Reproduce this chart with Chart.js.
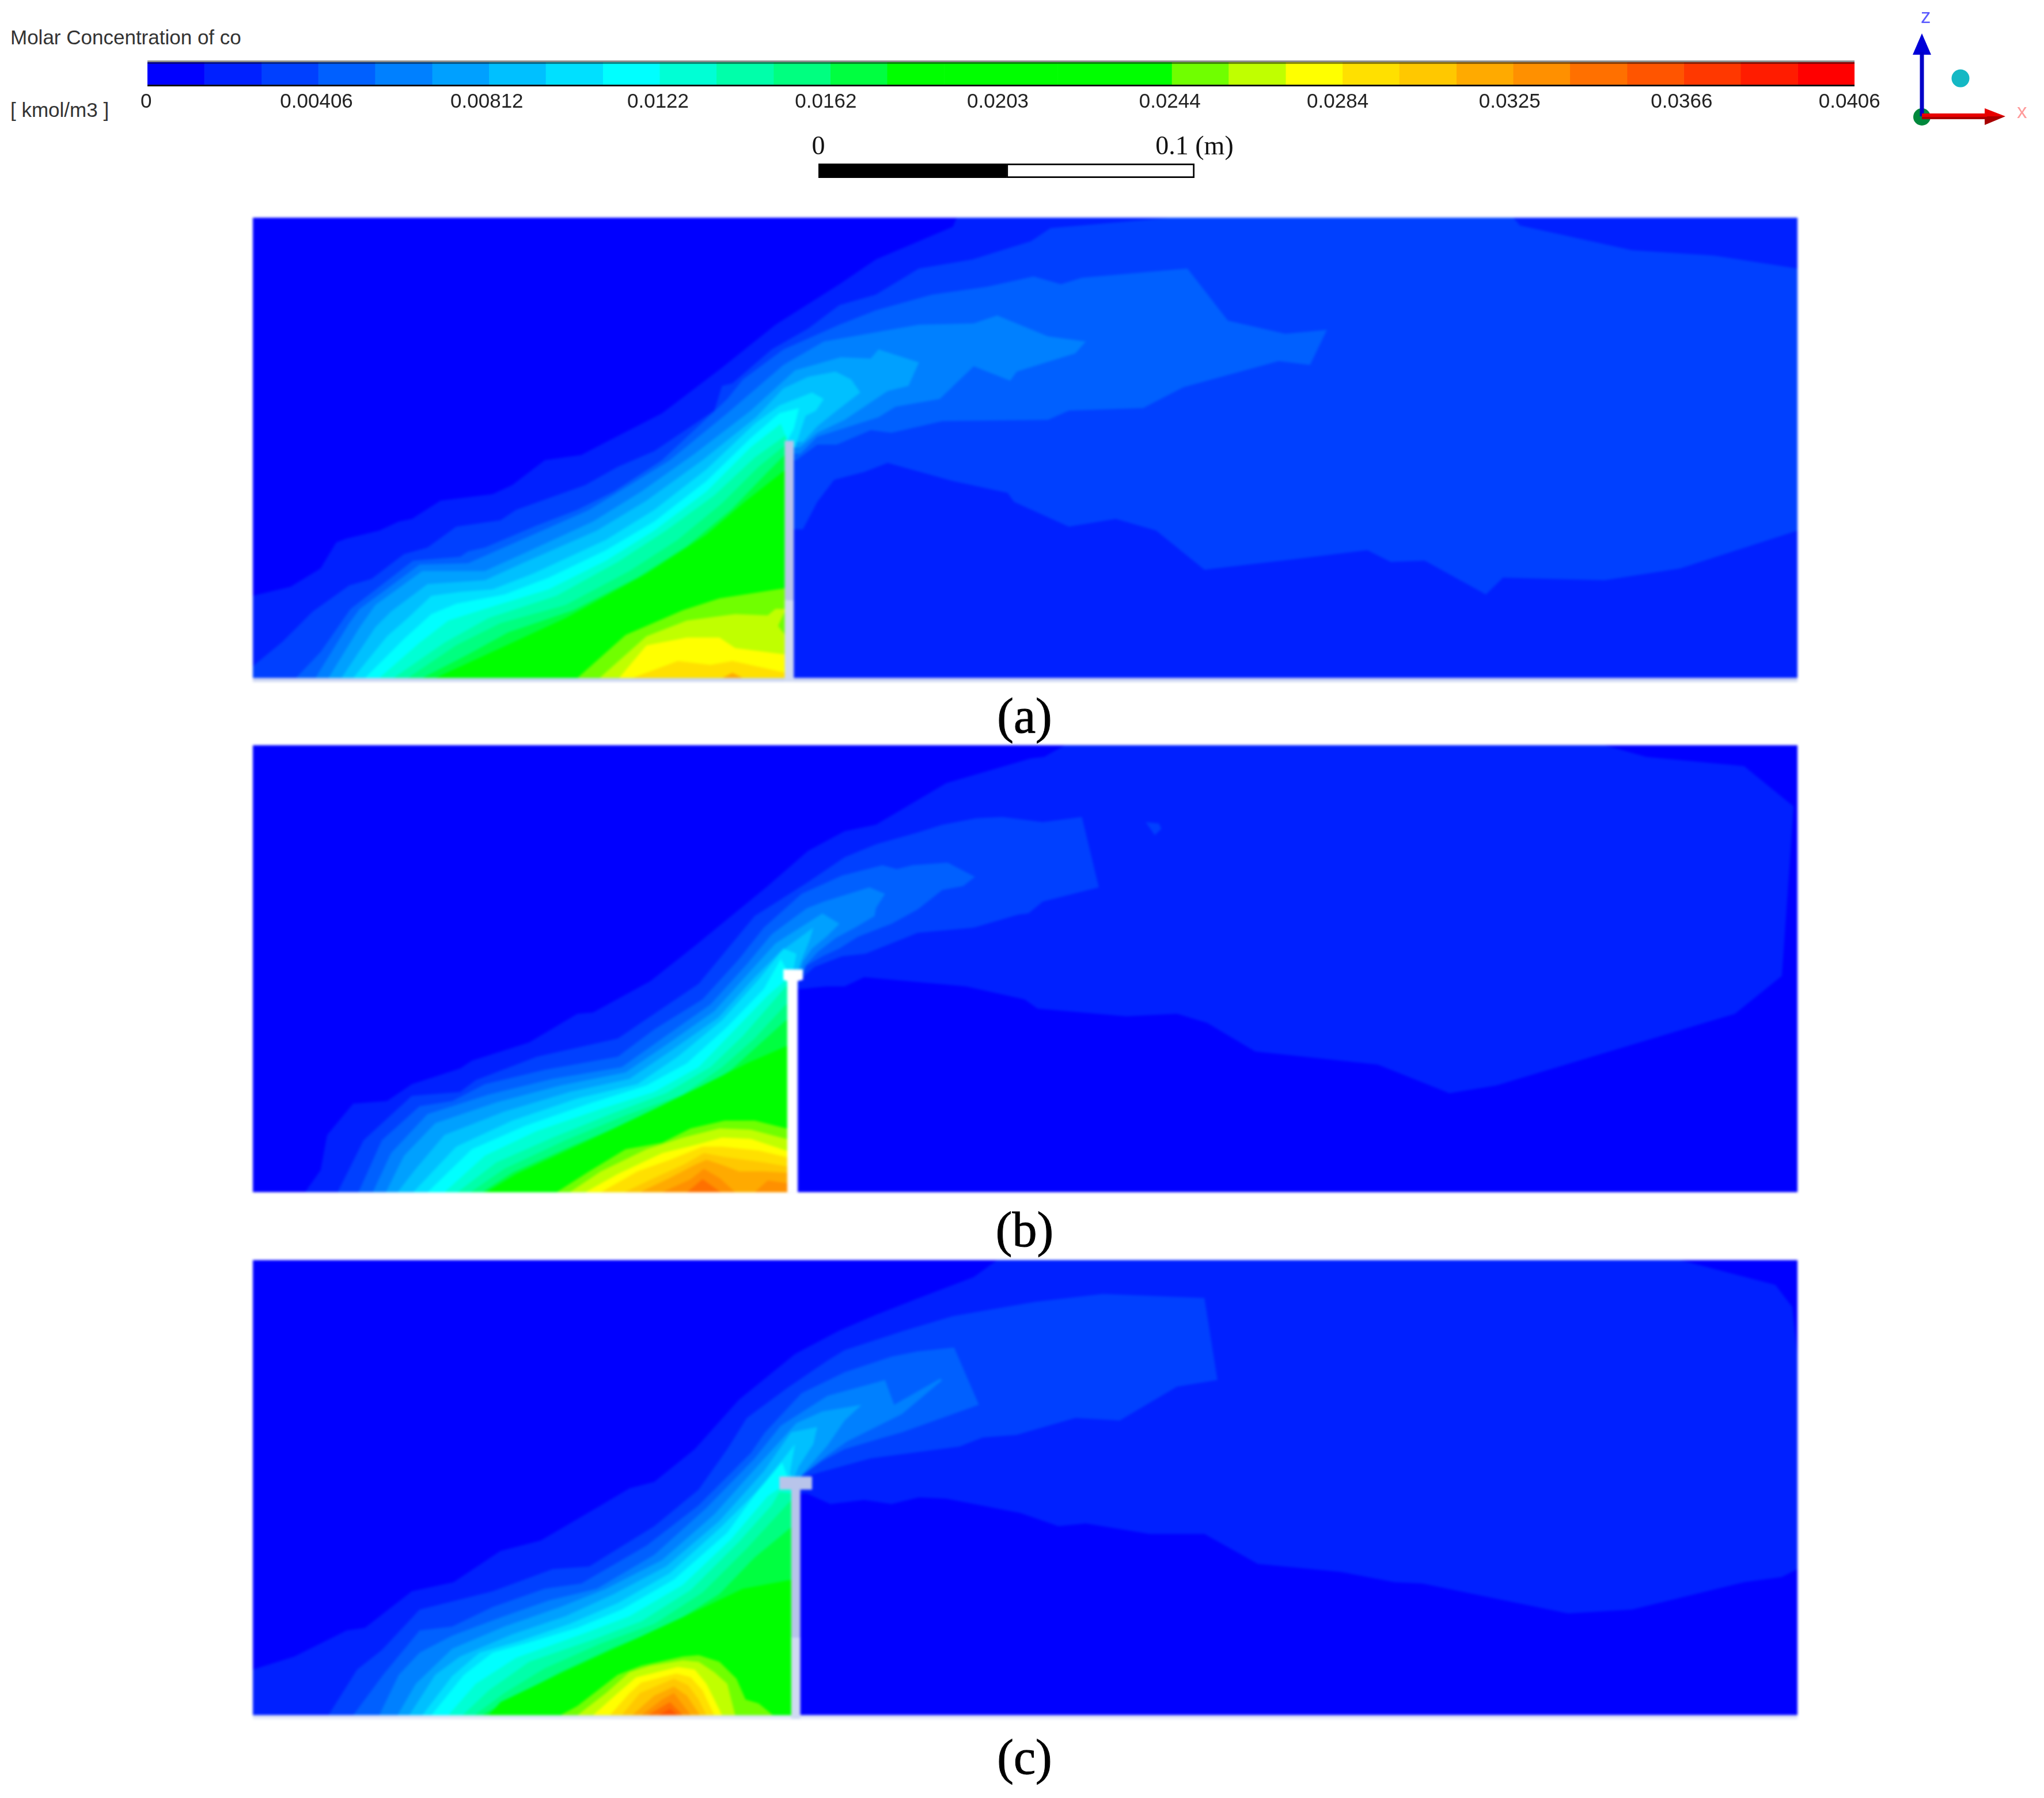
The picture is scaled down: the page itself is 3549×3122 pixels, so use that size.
<!DOCTYPE html>
<html lang="en">
<head>
<meta charset="UTF-8">
<title>Molar Concentration of co</title>
<script src="https://cdn.jsdelivr.net/npm/chart.js"></script>
<style>
    body { margin: 0; background: #fff; width: 3549px; height: 3122px; position: relative; overflow: hidden; }
    canvas { position: absolute; display: block; }
    .panel { filter: blur(2px); }
    .txt { position: absolute; white-space: nowrap; line-height: 1; transform: translateY(-50%); }
    .sans { font-family: 'Liberation Sans', sans-serif; font-size: 35px; color: #333; }
    .cap { font-family: 'Liberation Serif', serif; font-size: 86px; color: #000; -webkit-text-stroke: 1px #000; transform: translate(-50%, -50%); }
</style>
</head>
<body>
<div class="txt sans" style="left:18px;top:64px">Molar Concentration of co</div>
<div class="txt sans" style="left:18px;top:190px">[ kmol/m3 ]</div>
<canvas id="colorbar" width="3300" height="110" style="left:100px;top:105px"></canvas>
<canvas id="scalebar" width="900" height="84" style="left:1300px;top:225px"></canvas>
<canvas id="triad" width="260" height="240" style="left:3280px;top:0"></canvas>
<div class="txt" style="left:3335px;top:28px;font:35px 'Liberation Sans';color:#5a5aff">z</div>
<div class="txt" style="left:3502px;top:193px;font:35px 'Liberation Sans';color:#ff9a9a">x</div>
<canvas id="panelA" class="panel" width="2682" height="806" style="left:439px;top:378px"></canvas>
<canvas id="panelB" class="panel" width="2682" height="783" style="left:439px;top:1294px"></canvas>
<canvas id="panelC" class="panel" width="2682" height="797" style="left:439px;top:2188px"></canvas>
<div class="txt cap" style="left:1779px;top:1243px">(a)</div>
<div class="txt cap" style="left:1779px;top:2135px">(b)</div>
<div class="txt cap" style="left:1779px;top:3051px">(c)</div>

<script>
// colour legend
const bandEdges = [0,0.00135,0.00271,0.00406,0.00541,0.00677,0.00812,0.00947,0.01083,0.01218,0.01353,0.01489,0.01624,0.01759,0.01895,0.0203,0.02165,0.02301,0.02436,0.02571,0.02707,0.02842,0.02977,0.03113,0.03248,0.03383,0.03519,0.03654,0.03789,0.03925,0.0406];
const bandColors = ['#0000ff','#0020ff','#0040ff','#0060ff','#0080ff','#00a0ff','#00c0ff','#00e0ff','#00ffff','#00ffd5','#00ffaa','#00ff80','#00ff40','#00ff00','#00ff00','#00ff00','#00ff00','#00ff00','#70ff00','#c0ff00','#ffff00','#ffe000','#ffc800','#ffaa00','#ff9000','#ff7000','#ff5500','#ff3800','#ff1c00','#ff0000'];
const colorbarTicks = [0,0.00406,0.00812,0.0122,0.0162,0.0203,0.0244,0.0284,0.0325,0.0366,0.0406];
const colorbarTickLabels = ['0','0.00406','0.00812','0.0122','0.0162','0.0203','0.0244','0.0284','0.0325','0.0366','0.0406'];
const scaleTicks = [0,0.1];
const scaleTickLabels = ['0','0.1 (m)'];

// contour outlines, flat x,z pairs (288 units = 0.1 m, z from the floor)
const a01 = [0,63,29,70,52,84,64,104,72,107,97,113,112,120,122,122,144,136,184,141,199,148,224,167,252,171,271,181,314,203,360,238,401,271,450,302,478,321,537,346,540,353,1185,353,1185,0,0,0];
const a02 = [0,9,23,28,46,51,74,71,91,76,116,95,134,100,156,116,190,121,202,129,255,148,280,162,308,174,354,205,360,224,368,226,398,252,426,268,450,286,478,294,511,314,552,321,597,335,612,345,704,353,967,353,972,347,1058,328,1121,324,1185,314,1185,113,1095,84,1037,75,959,77,946,64,899,90,873,89,855,98,798,91,730,83,693,113,662,122,626,116,584,135,579,142,537,151,487,165,469,158,446,152,433,135,422,114,417,114,410,114,410,0,0,0];
const a03 = [33,0,52,20,75,53,123,90,159,93,165,97,178,100,218,117,249,129,277,143,314,167,364,214,376,229,407,252,450,271,478,282,521,294,563,300,599,308,620,302,636,307,717,314,748,274,792,264,824,267,811,240,787,243,714,223,683,207,626,205,610,198,529,197,490,188,474,190,448,179,433,179,417,167,410,167,410,0];
const a04 = [48,0,74,42,82,53,128,87,165,88,215,110,258,129,289,148,320,167,364,203,407,240,438,258,477,265,511,271,553,272,571,278,610,262,639,258,631,249,586,235,581,228,553,239,527,214,493,208,480,200,433,185,420,172,410,172,410,0];
const a05 = [58,0,82,39,94,56,130,82,178,82,209,96,261,120,298,143,339,172,382,205,416,236,451,246,474,245,480,252,511,242,503,224,487,220,454,198,433,188,420,177,410,176,410,0];
const a06 = [68,0,94,39,106,51,134,72,178,75,209,89,264,113,302,136,345,167,386,200,407,222,426,231,447,235,459,229,466,219,448,205,433,193,422,181,410,181,410,0];
const a07 = [77,0,103,32,119,46,137,63,159,66,184,68,215,80,271,106,308,129,348,160,385,195,404,209,429,219,438,214,432,205,424,201,416,177,410,176,410,0];
const a08 = [86,0,116,30,137,49,156,57,193,64,227,77,271,98,308,120,348,151,382,184,404,203,419,207,415,191,410,182,410,0];
const a09 = [97,0,128,27,150,44,178,53,227,68,271,90,308,113,348,143,382,177,405,195,410,182,410,0];
const a10 = [108,0,147,27,181,46,233,63,280,89,317,113,354,140,385,169,409,186,410,0];
const a11 = [119,0,156,25,190,42,240,56,289,82,326,106,360,134,388,162,409,179,410,0];
const a12 = [130,0,165,18,196,35,246,52,295,77,333,101,367,129,395,158,409,172,410,0];
const a13 = [140,0,190,23,240,46,302,80,348,110,376,134,409,160,410,0];
const a18 = [249,0,286,33,330,52,358,61,409,69,410,0];
const a19 = [266,0,302,32,333,44,370,49,395,48,401,53,409,53,403,40,409,32,410,30,410,0];
const a20 = [281,0,302,25,333,31,358,31,370,23,409,18,410,0];
const a21 = [291,0,326,13,351,10,368,13,409,4,410,0];
const a22 = [360,0,368,4,376,0];
const panelALevels = [1,2,3,4,5,6,7,8,9,10,11,12,13,18,19,20,21,23];
const panelAOutlines = [a01,a02,a03,a04,a05,a06,a07,a08,a09,a10,a11,a12,a13,a18,a19,a20,a21,a22];

const b01 = [40,0,52,17,57,44,77,68,103,70,122,83,159,95,168,101,212,115,249,137,261,138,305,162,339,189,395,235,426,262,454,277,478,282,532,314,597,333,607,334,623,343,1037,343,1069,334,1144,327,1182,296,1173,166,1137,137,954,82,918,76,863,98,769,108,732,130,709,137,670,135,602,141,592,148,547,158,469,165,454,158,440,158,420,156,412,155,412,0];
const b02 = [65,0,85,40,122,74,159,77,171,86,218,104,280,118,308,137,342,160,385,212,426,238,454,257,478,267,510,276,529,282,555,287,575,288,606,284,636,288,649,234,606,223,595,214,587,213,553,203,510,199,470,183,452,181,431,173,421,164,411,164,411,0];
const b02blob = [685,284,695,283,697,279,692,274];
const b03 = [81,0,99,40,128,66,153,70,178,83,224,94,280,104,308,125,345,148,373,179,392,203,421,229,452,243,483,251,494,248,506,251,533,253,554,242,545,235,529,232,510,217,490,206,464,196,450,187,437,181,425,174,421,165,411,165,411,0];
const b04 = [92,0,106,30,134,60,181,75,230,87,283,96,314,118,351,144,379,175,398,198,425,218,438,223,473,234,485,229,478,218,477,212,462,203,447,195,433,184,424,174,420,165,411,165,411,0];
const b05 = [102,0,116,28,140,53,187,69,236,82,286,92,317,113,354,139,382,170,401,191,437,214,450,206,441,197,429,187,422,177,419,166,411,166,411,0];
const b06 = [111,0,125,18,147,44,193,62,243,77,289,87,320,108,357,134,385,165,404,184,430,203,427,193,422,181,418,170,411,168,411,0];
const b07 = [123,0,156,35,199,55,249,72,295,83,326,104,360,132,388,163,407,187,417,183,415,172,411,168,411,0];
const b08 = [134,0,168,33,209,51,258,68,302,82,333,99,364,127,392,156,405,179,411,168,411,0];
const b09 = [147,0,178,28,218,47,267,64,308,77,342,96,370,125,395,151,409,163,411,163,411,0];
const b10 = [157,0,187,23,230,42,277,61,317,76,351,96,376,120,409,158,411,158,411,0];
const b11 = [167,0,193,18,240,40,286,59,330,75,360,96,385,118,409,144,411,144,411,0];
const b12 = [176,0,199,15,246,36,292,55,336,73,367,94,409,132,411,132,411,0];
const b13 = [179,0,202,14,258,40,302,61,345,82,379,99,409,112,411,112,411,0];
const b18 = [233,0,258,16,286,33,314,38,336,49,362,55,385,55,409,49,411,49,411,0];
const b19 = [243,0,267,16,302,33,330,42,358,49,382,48,409,41,411,41,411,0];
const b20 = [255,0,280,14,314,30,342,37,360,42,382,41,409,32,411,32,411,0];
const b21 = [267,0,295,16,320,25,345,35,360,35,388,32,409,27,411,27,411,0];
const b22 = [285,0,308,11,330,21,346,30,362,27,392,23,409,20,411,20,411,0];
const b23 = [297,0,320,11,339,21,348,25,360,21,373,16,392,16,409,15,411,15,411,0];
const b24 = [314,0,336,10,346,18,358,11,370,0,385,0,395,9,409,7,411,7,411,0];
const b25 = [333,0,345,10,359,0];
const panelBLevels = [1,2,2,3,4,5,6,7,8,9,10,11,12,13,18,19,20,21,22,23,24,25];
const panelBOutlines = [b01,b02,b02blob,b03,b04,b05,b06,b07,b08,b09,b10,b11,b12,b13,b18,b19,b20,b21,b22,b23,b24,b25];

const c01 = [0,35,32,45,72,65,86,67,122,95,154,102,190,126,221,134,267,161,289,174,308,179,339,204,373,242,416,277,450,295,478,307,511,320,553,336,571,349,1095,349,1168,330,1181,313,1185,277,1185,112,1173,106,1144,102,1058,81,1009,78,897,101,876,102,834,110,771,116,730,139,688,139,639,147,618,145,589,155,532,166,511,167,490,162,469,165,443,162,425,170,414,169,414,0,0,0];
const c02 = [58,0,80,35,99,50,128,81,184,95,230,112,258,114,308,145,342,173,364,204,379,228,410,251,441,272,454,280,500,295,537,306,600,317,652,323,730,320,740,257,709,252,665,226,631,228,586,215,560,213,542,206,474,197,427,184,425,178,414,178,414,0];
const c03 = [77,0,100,31,128,65,153,68,184,83,224,97,252,101,302,130,342,161,382,201,393,217,421,247,454,263,490,275,510,279,538,282,557,238,498,217,484,213,454,204,437,195,423,185,414,178,414,0];
const c04 = [97,0,112,31,128,48,153,61,190,75,227,88,264,97,308,123,348,159,385,197,405,222,441,245,485,257,492,238,527,258,529,257,498,231,480,222,456,210,439,198,424,186,414,178,414,0];
const c05 = [111,0,125,24,153,51,193,68,236,83,271,97,314,119,354,154,388,192,417,224,437,233,467,238,454,226,441,207,427,191,422,185,414,178,414,0];
const c06 = [120,0,140,31,159,45,199,62,240,76,277,93,317,114,358,149,392,187,413,217,433,221,430,208,419,191,416,184,414,178,414,0];
const c07 = [130,0,153,30,174,48,205,57,243,70,280,86,320,109,360,145,390,175,416,208,412,186,414,178,414,0];
const c08 = [137,0,162,31,184,48,209,55,249,67,283,81,323,104,364,140,388,173,406,194,410,183,414,178,414,0];
const c09 = [150,0,171,24,202,44,255,63,289,76,330,100,367,135,395,168,404,174,414,174,414,0];
const c10 = [161,0,181,19,212,41,261,58,298,72,336,96,373,133,398,161,404,171,414,170,414,0];
const c11 = [170,0,193,17,224,36,267,55,308,70,345,94,379,128,414,166,414,0];
const c12 = [176,0,202,15,236,33,277,52,320,69,358,93,385,121,414,145,414,0];
const c13 = [181,0,190,10,240,34,286,55,336,78,376,97,414,104,414,0];
const c18 = [236,0,249,7,280,31,298,38,330,45,342,46,358,41,371,28,378,12,388,9,399,0];
const c19 = [249,0,271,17,289,33,305,38,330,42,342,41,354,33,364,24,370,0];
const c20 = [261,0,280,17,294,29,326,37,339,35,348,24,360,0];
const c21 = [274,0,289,17,298,25,325,32,336,29,345,19,354,0];
const c22 = [283,0,297,17,323,28,334,23,342,12,348,0];
const c23 = [291,0,308,15,323,22,333,15,343,0];
const c24 = [298,0,314,12,323,17,336,0];
const c25 = [303,0,320,10,330,0];
const c26 = [311,0,320,5,326,0];
const panelCLevels = [1,2,3,4,5,6,7,8,9,10,11,12,13,18,19,20,21,22,23,24,25,26];
const panelCOutlines = [c01,c02,c03,c04,c05,c06,c07,c08,c09,c10,c11,c12,c13,c18,c19,c20,c21,c22,c23,c24,c25,c26];

// baffle outlines for each case, and the floor strip
const aBaffleUpper = [408,182,415,182,415,60,408,60];
const aBaffleLower = [408,60,415,60,415,-3,408,-3];
const bBaffle = [410,0,410,162,407,163,407,171,422,171,422,163,418,162,418,0];
const cBaffleUpper = [413,60,413,173,404,173,404,183,429,183,429,173,420,173,420,60];
const cBaffleLower = [413,60,420,60,420,-3,413,-3];

const pairs = flat => {
    const out = [];
    for (let i = 0; i < flat.length; i += 2) out.push({ x: flat[i], y: flat[i + 1] });
    return out;
};

// fills each outline as a closed shape, using the points the scales have placed
const outlineFill = {
    id: 'outlineFill',
    beforeDatasetsDraw(chart) {
        const ctx = chart.ctx;
        chart.data.datasets.forEach((ds, i) => {
            if (!ds.outline) return;
            ctx.beginPath();
            chart.getDatasetMeta(i).data.forEach((p, k) => k ? ctx.lineTo(p.x, p.y) : ctx.moveTo(p.x, p.y));
            ctx.closePath();
            ctx.fillStyle = ds.outline;
            ctx.fill();
        });
    }
};

const outlineSet = (flat, colour) => ({ data: pairs(flat), outline: colour, showLine: false, pointRadius: 0 });

function contourChart(id, zMax, levels, outlines, extras) {
    const sets = [outlineSet([0, 0, 1185, 0, 1185, zMax, 0, zMax], bandColors[0])];
    outlines.forEach((o, i) => sets.push(outlineSet(o, bandColors[levels[i]])));
    extras.forEach(e => sets.push(outlineSet(e[0], e[1])));
    new Chart(document.getElementById(id), {
        type: 'scatter',
        data: { datasets: sets },
        plugins: [outlineFill],
        options: {
            responsive: false, animation: false, devicePixelRatio: 1,
            layout: { padding: 0, autoPadding: false },
            plugins: { legend: { display: false }, tooltip: { enabled: false } },
            scales: {
                x: { type: 'linear', min: 0, max: 1185, display: false },
                y: { type: 'linear', min: -3, max: zMax, display: false }
            }
        }
    });
}

contourChart('panelA', 353, panelALevels, panelAOutlines, [
    [[0, 0, 1185, 0, 1185, -3, 0, -3], '#cdd6f2'],
    [aBaffleUpper, '#b8c4ea'],
    [aBaffleLower, '#d0daf2']
]);
contourChart('panelB', 343, panelBLevels, panelBOutlines, [
    [[0, 0, 1185, 0, 1185, -3, 0, -3], '#ffffff'],
    [bBaffle, '#ffffff']
]);
contourChart('panelC', 349, panelCLevels, panelCOutlines, [
    [[0, 0, 1185, 0, 1185, -3, 0, -3], '#e2e8f8'],
    [cBaffleUpper, '#b8c4ea'],
    [cBaffleLower, '#d0daf2']
]);

// grey top edge and black bottom edge of the legend bar
const barFrame = {
    id: 'barFrame',
    afterDatasetsDraw(chart) {
        const { ctx, chartArea: a } = chart;
        ctx.fillStyle = '#8c8c8c';
        ctx.fillRect(a.left, a.top, a.right - a.left, 3);
        ctx.fillStyle = 'rgba(0,0,0,0.45)';
        ctx.fillRect(a.left, a.top + 3, a.right - a.left, 3);
        ctx.fillStyle = '#111';
        ctx.fillRect(a.left, a.bottom - 3, a.right - a.left, 3);
    }
};

new Chart(document.getElementById('colorbar'), {
    type: 'bar',
    data: {
        labels: ['co'],
        datasets: bandColors.map((c, i) => ({
            data: [[bandEdges[i], bandEdges[i + 1]]],
            backgroundColor: c, grouped: false, barPercentage: 1, categoryPercentage: 1
        }))
    },
    plugins: [barFrame],
    options: {
        indexAxis: 'y', responsive: false, animation: false, devicePixelRatio: 1,
        layout: { padding: { left: 156, right: 180 } },
        plugins: { legend: { display: false }, tooltip: { enabled: false } },
        scales: {
            y: { display: false },
            x: { type: 'linear', min: 0, max: 0.0406, display: false },
            // labels sit a little left of the band edges in the original, so they get their own axis
            labelAxis: {
                type: 'linear', position: 'bottom', axis: 'x', min: 0.00003, max: 0.04072,
                grid: { display: false, drawTicks: false }, border: { display: false },
                afterBuildTicks: ax => { ax.ticks = colorbarTicks.map(v => ({ value: v })); },
                afterFit: ax => { ax.paddingLeft = 0; ax.paddingRight = 0; ax.height = 65; },
                ticks: {
                    autoSkip: false, maxRotation: 0, padding: 6, color: '#222',
                    font: { family: 'Liberation Sans', size: 35 },
                    callback: (v, i) => colorbarTickLabels[i]
                }
            }
        }
    }
});

new Chart(document.getElementById('scalebar'), {
    type: 'bar',
    data: {
        labels: ['m'],
        datasets: [
            { data: [[0, 0.05]], backgroundColor: '#000', grouped: false, barPercentage: 1, categoryPercentage: 1 },
            { data: [[0.05, 0.1]], backgroundColor: '#fff', borderColor: '#000', borderWidth: 3, borderSkipped: false, grouped: false, barPercentage: 1, categoryPercentage: 1 }
        ]
    },
    options: {
        indexAxis: 'y', responsive: false, animation: false, devicePixelRatio: 1,
        layout: { padding: { left: 121, right: 126 } },
        plugins: { legend: { display: false }, tooltip: { enabled: false } },
        scales: {
            y: { display: false },
            x: {
                type: 'linear', position: 'top', min: 0, max: 0.1,
                grid: { display: false, drawTicks: false }, border: { display: false },
                afterBuildTicks: ax => { ax.ticks = scaleTicks.map(v => ({ value: v })); },
                afterFit: ax => { ax.paddingLeft = 0; ax.paddingRight = 0; ax.height = 59; },
                ticks: {
                    autoSkip: false, maxRotation: 0, padding: 0, color: '#111',
                    font: { family: 'Liberation Serif', size: 46 },
                    callback: (v, i) => scaleTickLabels[i]
                }
            }
        }
    }
});

// orientation triad
new Chart(document.getElementById('triad'), {
    type: 'scatter',
    data: {
        datasets: [
            { data: [{ x: 57, y: 202 }, { x: 57, y: 90 }], showLine: true, borderColor: '#0000c8', borderWidth: 7, pointRadius: 0, order: 2 },
            { data: [{ x: 57, y: 200 }, { x: 170, y: 200 }], showLine: true, borderColor: '#e80000', borderWidth: 6, pointRadius: 0, order: 1 },
            { data: [{ x: 57, y: 205 }, { x: 170, y: 205 }], showLine: true, borderColor: '#a80000', borderWidth: 4, pointRadius: 0, order: 1 },
            { data: [{ x: 57, y: 203 }], pointRadius: 15, pointBackgroundColor: '#00883c', pointBorderWidth: 0, order: 3 },
            { data: [{ x: 124, y: 136 }], pointRadius: 15.5, pointBackgroundColor: '#14b8c4', pointBorderWidth: 0, order: 3 },
            outlineSet([41, 95, 57, 58, 73, 95], '#0000d8'),
            outlineSet([166, 188, 202, 202, 166, 202], '#e80000'),
            outlineSet([166, 202, 202, 202, 166, 217], '#a80000')
        ]
    },
    plugins: [outlineFill],
    options: {
        responsive: false, animation: false, devicePixelRatio: 1,
        layout: { padding: 0, autoPadding: false },
        plugins: { legend: { display: false }, tooltip: { enabled: false } },
        scales: {
            x: { type: 'linear', min: 0, max: 260, display: false },
            y: { type: 'linear', min: 0, max: 240, reverse: true, display: false }
        }
    }
});
</script>
</body>
</html>
